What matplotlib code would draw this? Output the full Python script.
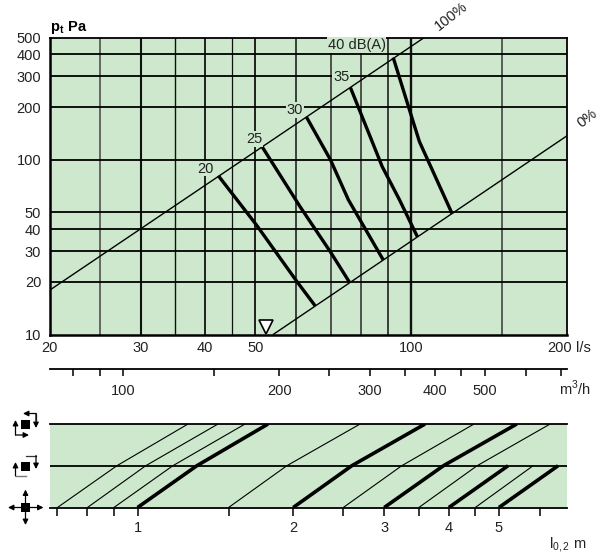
import matplotlib
matplotlib.use("Agg")
import matplotlib.pyplot as plt
import numpy as np

plt.rcParams["font.family"] = ["Liberation Sans", "DejaVu Sans"]
plt.rcParams["mathtext.fontset"] = "custom"
plt.rcParams["mathtext.rm"] = "Liberation Sans"
plt.rcParams["mathtext.bf"] = "Liberation Sans:bold"
plt.rcParams["font.size"] = 10.5

W, H = 603, 556
GREEN = "#cde8cc"
TEXT = "#222222"

# Main diagram data
flow_ticks = [20, 30, 40, 50, 100]
flow_grid = [25, 30, 35, 40, 45, 50, 60, 70, 80, 90, 100, 150]
flow_grid_lw = [1.1, 1.5, 1.0, 1.3, 0.9, 1.3, 1.1, 1.3, 1.3, 1.1, 1.7, 1.2]
flow_grid_gray = [25, 70, 80, 150]
pressure_ticks = [10, 20, 30, 40, 50, 100, 200, 300, 400, 500]
pressure_grid = [20, 30, 40, 50, 100, 200, 300, 400]

damper_100_q = [20, 106]
damper_100_p = [17.9, 500]
damper_0_q = [54.1, 200]
damper_0_p = [10, 137]

db20_q = [42.4, 50.2, 60.2, 65.2]
db20_p = [80.9, 42.4, 20, 14.6]
db25_q = [51.5, 61, 69.8, 75.9]
db25_p = [118.7, 53.8, 29.7, 20]
db30_q = [62.7, 69.8, 75.6, 88.3]
db30_p = [176, 100, 59, 26.7]
db35_q = [76.3, 87.9, 94.9, 102.8]
db35_p = [258.6, 91.2, 59, 36.2]
db40_q = [92.3, 99.6, 103.7, 120]
db40_p = [384, 186, 127, 49]

noise_labels = ["20", "25", "30", "35", "40 dB(A)"]
noise_label_q = [40, 49.7, 59.6, 73.3, 78.4]
noise_label_p = [88.9, 131.6, 193.1, 298, 455]

marker_q = [52.3]
marker_p = [11.0]

# m3/h scale
m3h_ticks = [80, 90, 100, 150, 200, 250, 300, 350, 400, 450, 500, 600, 700]
m3h_labels = ["", "", "100", "", "200", "", "300", "", "400", "", "500", "", ""]

# Throw diagram data
throw_ticks = [0.7, 0.8, 0.9, 1, 1.5, 2, 2.5, 3, 3.5, 4, 4.5, 5, 6]
throw_labels = ["", "", "", "1", "", "2", "", "3", "", "4", "", "5", ""]
throw_bottom = [0.7, 0.8, 0.9, 1, 1.5, 2, 2.5, 3, 3.5, 4, 4.5, 5]
throw_mid = [0.912, 1.037, 1.170, 1.302, 1.944, 2.596, 3.243, 3.904, 4.536, 5.207, 5.821, 6.506]
throw_top = [1.252, 1.431, 1.614, 1.788, 2.694, 3.598, 4.475, 5.413, 6.280, np.nan, np.nan, np.nan]
throw_thick = [1, 2, 3, 4, 5]


def px_axes(fig, x0, y0, x1, y1):
    """Axes from pixel box, y measured from the top of the image."""
    return fig.add_axes([x0 / W, 1 - y1 / H, (x1 - x0) / W, (y1 - y0) / H])


fig = plt.figure(figsize=(W / 100, H / 100), dpi=100, facecolor="white")

# ---- main diagram
ax = px_axes(fig, 49.5, 37.5, 567, 334.5)
ax.set_facecolor(GREEN)
ax.set_xscale("log")
ax.set_yscale("log")
ax.set_xlim(20, 200)
ax.set_ylim(10, 500)

for q, lw in zip(flow_grid, flow_grid_lw):
    ax.axvline(q, color="#444444" if q in flow_grid_gray else "#111111", lw=lw, zorder=1)
for p in pressure_grid:
    ax.axhline(p, color="black", lw=1.3, zorder=1)

ax.plot(damper_100_q, damper_100_p, color="black", lw=1.0, zorder=2)
ax.plot(damper_0_q, damper_0_p, color="black", lw=1.0, zorder=2)

for q, p in [(db20_q, db20_p), (db25_q, db25_p), (db30_q, db30_p),
             (db35_q, db35_p), (db40_q, db40_p)]:
    ax.plot(q, p, color="black", lw=2.4, solid_capstyle="butt", zorder=3)

for label, q, p in zip(noise_labels, noise_label_q, noise_label_p):
    ax.text(q, p, label, ha="center", va="center", color=TEXT, zorder=4,
            bbox=dict(facecolor=GREEN, edgecolor="none", pad=0.6))

ax.plot(marker_q, marker_p, marker="v", ms=10.5, mfc="white", mec="black", mew=1.2,
        ls="none", clip_on=False, zorder=5)

ax.set_xticks(flow_ticks, [str(t) for t in flow_ticks])
ax.set_yticks(pressure_ticks, [str(t) for t in pressure_ticks])
ax.set_xticks([], minor=True)
ax.set_yticks([], minor=True)
ax.tick_params(length=0, labelcolor=TEXT)
ax.tick_params(axis="x", pad=5)
ax.tick_params(axis="y", pad=6)
for s in ax.spines.values():
    s.set_linewidth(1.3)
ax.spines["left"].set_linewidth(1.8)
ax.spines["bottom"].set_linewidth(1.8)

# ---- m3/h scale
ax_m = px_axes(fig, 49.5, 368, 567, 369)
ax_m.set_xscale("log")
ax_m.set_xlim(72, 720)
ax_m.patch.set_visible(False)
ax_m.set_yticks([])
for name in ("top", "left", "right"):
    ax_m.spines[name].set_visible(False)
ax_m.spines["bottom"].set_linewidth(1.3)
ax_m.set_xticks(m3h_ticks, m3h_labels)
ax_m.set_xticks([], minor=True)
ax_m.tick_params(axis="x", length=5, width=1.1, labelcolor=TEXT, pad=6)

# ---- throw diagram
ax_t = px_axes(fig, 49.5, 424, 567, 507.5)
ax_t.set_facecolor(GREEN)
ax_t.set_xscale("log")
ax_t.set_xlim(0.6756, 6.77)
ax_t.set_ylim(0, 2)
ax_t.set_yticks([])
for name in ("left", "right"):
    ax_t.spines[name].set_visible(False)
for name in ("top", "bottom"):
    ax_t.spines[name].set_linewidth(1.3)
ax_t.axhline(1, color="black", lw=1.3, zorder=3)
for b, m, t in zip(throw_bottom, throw_mid, throw_top):
    thick = b in throw_thick
    ax_t.plot([b, m, t], [0, 1, 2], color="black", lw=2.6 if thick else 0.8,
              solid_capstyle="butt", zorder=2)
ax_t.set_xticks(throw_ticks, throw_labels)
ax_t.set_xticks([], minor=True)
ax_t.tick_params(axis="x", length=5.5, width=1.1, labelcolor=TEXT, pad=4)

# ---- free text and airflow pattern symbols, placed in image pixels
pix = fig.add_axes([0, 0, 1, 1], zorder=10)
pix.set_xlim(0, W)
pix.set_ylim(H, 0)
pix.axis("off")

pix.text(49.5, 27, r"$\mathbf{p_t\ Pa}$", ha="left", va="center", color="black")
pix.text(572, 348, "200", ha="right", va="center", color=TEXT)
pix.text(576, 348, "l/s", ha="left", va="center", color=TEXT)
pix.text(559, 388, r"m$^{3}$/h", ha="left", va="center", color=TEXT)
pix.text(549, 545, r"l$_{0,2}$ m", ha="left", va="center", color=TEXT)
pix.text(451, 16, "100%", rotation=38, ha="center", va="center", color=TEXT)
pix.text(587, 118, "0%", rotation=38, ha="center", va="center", color=TEXT)


def square(cx, cy, size=9):
    pix.add_patch(plt.Rectangle((cx - size / 2, cy - size / 2), size, size, color="black", lw=0))


def arrow(x0, y0, x1, y1):
    pix.annotate("", xy=(x1, y1), xytext=(x0, y0),
                 arrowprops=dict(arrowstyle="-|>", lw=0.9, color="black",
                                 shrinkA=0, shrinkB=0, mutation_scale=8))


# top symbol
square(25.5, 424.5)
pix.plot([36, 36], [413.5, 420], color="#333333", lw=0.9)
arrow(36, 413.5, 23, 413.5)
arrow(36, 413.5, 36, 428)
arrow(15.5, 435, 15.5, 420)
arrow(15.5, 435, 29, 435)

# middle symbol
square(25.5, 466)
pix.plot([26, 36], [455.5, 455.5], color="#333333", lw=0.9)
arrow(36, 455.5, 36, 469)
arrow(15.5, 476, 15.5, 462)
pix.plot([15.5, 26], [476, 476], color="#777777", lw=1.0)

# bottom symbol
square(25.5, 507.5)
arrow(25.5, 507.5, 8, 507.5)
arrow(25.5, 507.5, 43.5, 507.5)
arrow(25.5, 507.5, 25.5, 489.5)
arrow(25.5, 507.5, 25.5, 525)

fig.savefig("out.png", dpi=100)
